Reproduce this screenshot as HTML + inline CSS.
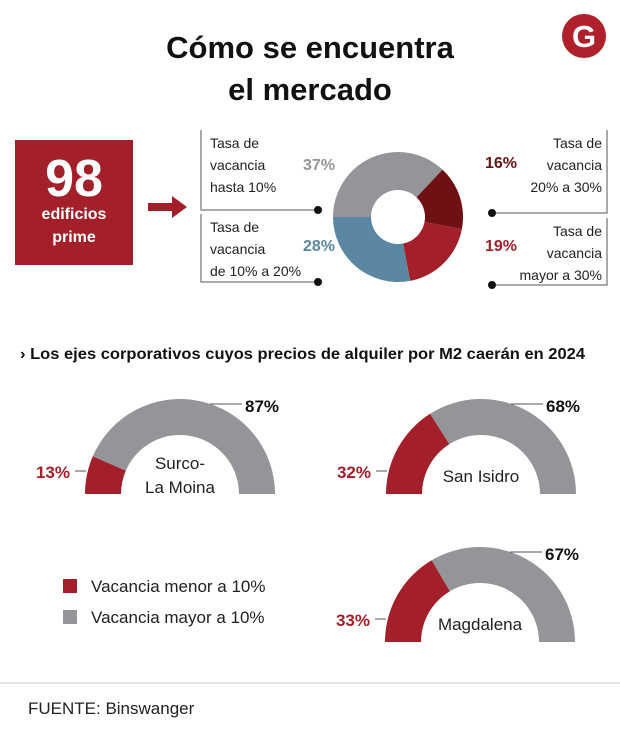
<!DOCTYPE html>
<html><head><meta charset="utf-8">
<style>
body{margin:0;background:#fff;font-family:"Liberation Sans",sans-serif;}
#w{position:relative;width:620px;height:740px;overflow:hidden;}
</style></head><body>
<div id="w">
<svg width="620" height="740" id="svg" style="position:absolute;left:0;top:0" font-family="Liberation Sans, sans-serif">
 <text x="310" y="58" text-anchor="middle" font-size="31" font-weight="bold" fill="#111">Cómo se encuentra</text>
 <text x="310" y="100" text-anchor="middle" font-size="31" font-weight="bold" fill="#111">el mercado</text>
 <g>
  <circle cx="584" cy="36" r="22" fill="#b0202c"/>
  <text x="584" y="47" text-anchor="middle" font-size="31" font-weight="bold" fill="#fff">G</text>
 </g>
 <rect x="15" y="140" width="118" height="125" fill="#a31f2a"/>
 <text x="74" y="196" text-anchor="middle" font-size="52" font-weight="bold" fill="#fff">98</text>
 <text x="74" y="219" text-anchor="middle" font-size="16" font-weight="bold" fill="#fff">edificios</text>
 <text x="74" y="242" text-anchor="middle" font-size="16" font-weight="bold" fill="#fff">prime</text>
 <g>
  <rect x="148" y="203" width="26" height="8" fill="#a31f2a"/>
  <polygon points="172,196 187,207 172,218" fill="#a31f2a"/>
 </g>
 <g id="donut"></g>
 <g id="callouts"></g>
 <text x="20" y="359" font-size="16" font-weight="bold" fill="#111" textLength="565" lengthAdjust="spacingAndGlyphs">›  Los ejes corporativos cuyos precios de alquiler por M2 caerán en 2024</text>
 <g id="gauges"></g>
 <g>
  <rect x="63" y="579" width="14" height="14" fill="#a31f2a"/>
  <text x="91" y="592" font-size="17" fill="#222">Vacancia menor a 10%</text>
  <rect x="63" y="610" width="14" height="14" fill="#939598"/>
  <text x="91" y="623" font-size="17" fill="#222">Vacancia mayor a 10%</text>
 </g>
 <line x1="0" y1="683" x2="620" y2="683" stroke="#ccc" stroke-width="1"/>
 <text x="28" y="714" font-size="17" fill="#222">FUENTE: Binswanger</text>
</svg>
</div>
<script>
const donutLabels=["Tasa de vacancia hasta 10%","Tasa de vacancia 20% a 30%","Tasa de vacancia mayor a 30%","Tasa de vacancia de 10% a 20%"];
const donutValues=[37,16,19,28];
const donutColors=["#939598","#6e1014","#a31f2a","#5b87a3"];
const gaugeNames=["Surco-La Moina","San Isidro","Magdalena"];
const gaugeLow=[13,32,33];
const gaugeHigh=[87,68,67];
const NS="http://www.w3.org/2000/svg";
function mk(t,a,p){const e=document.createElementNS(NS,t);for(const k in a)e.setAttribute(k,a[k]);p.appendChild(e);return e;}
function pt(cx,cy,r,deg){const a=deg*Math.PI/180;return [cx+r*Math.sin(a),cy-r*Math.cos(a)];}
function arc(cx,cy,r0,r1,a0,a1){const p1=pt(cx,cy,r1,a0),p2=pt(cx,cy,r1,a1),p3=pt(cx,cy,r0,a1),p4=pt(cx,cy,r0,a0);const l=(a1-a0)>180?1:0;
return `M${p1[0]},${p1[1]}A${r1},${r1} 0 ${l} 1 ${p2[0]},${p2[1]}L${p3[0]},${p3[1]}A${r0},${r0} 0 ${l} 0 ${p4[0]},${p4[1]}Z`;}
const dg=document.getElementById('donut');
const total=donutValues.reduce((a,b)=>a+b,0);
let ang=270;
donutValues.forEach((v,i)=>{const sw=v/total*360;const p=mk('path',{d:arc(398,217,27,65,ang,ang+sw),fill:donutColors[i]},dg);


ang+=sw;});
const cg=document.getElementById('callouts');
const co=[{x:201,lineY:210,dotX:318,side:'l',ty:148,px:335,py:170},{x:607,lineY:213,dotX:492,side:'r',ty:148,px:485,py:168},{x:607,lineY:285,dotX:492,side:'r',ty:236,px:485,py:251},{x:201,lineY:282,dotX:318,side:'l',ty:232,px:335,py:251}];
donutValues.forEach((v,i)=>{const c=co[i];const top=c.ty-18;
const pl=mk('polyline',{points:`${c.x},${top} ${c.x},${c.lineY} ${c.dotX},${c.lineY}`,fill:'none',stroke:'#555','stroke-width':1},cg);


const d=mk('circle',{cx:c.dotX,cy:c.lineY,r:4,fill:'#111'},cg);


const words=donutLabels[i].split(' ');const lines=[words.slice(0,2).join(' '),words[2],words.slice(3).join(' ')];
const tx=c.side=='l'?c.x+9:c.x-5;
lines.forEach((ln,j)=>{const t=mk('text',{x:tx,y:c.ty+j*22,'font-size':14,fill:'#222','text-anchor':c.side=='l'?'start':'end'},cg);t.textContent=ln;

});
const t=mk('text',{x:c.px,y:c.py,'font-size':16,'font-weight':'bold',fill:donutColors[i],'text-anchor':c.side=='l'?'end':'start'},cg);t.textContent=v+'%';

});
const gg=document.getElementById('gauges');
const gp=[{cx:180,cy:494},{cx:481,cy:494},{cx:480,cy:642}];
gaugeNames.forEach((n,i)=>{const g=gp[i];const lo=gaugeLow[i]/(gaugeLow[i]+gaugeHigh[i])*180;
const a=mk('path',{d:arc(g.cx,g.cy,59,95,270,270+lo),fill:'#a31f2a'},gg);


const b=mk('path',{d:arc(g.cx,g.cy,59,95,270+lo,450),fill:'#939598'},gg);


const l1=mk('line',{x1:g.cx-105,y1:g.cy-23,x2:g.cx-94,y2:g.cy-23,stroke:'#555'},gg);


const l2=mk('line',{x1:g.cx+30,y1:g.cy-90,x2:g.cx+62,y2:g.cy-90,stroke:'#555'},gg);


const t1=mk('text',{x:g.cx-110,y:g.cy-16,'font-size':17,'font-weight':'bold',fill:'#a31f2a','text-anchor':'end'},gg);t1.textContent=gaugeLow[i]+'%';


const t2=mk('text',{x:g.cx+65,y:g.cy-82,'font-size':17,'font-weight':'bold',fill:'#111'},gg);t2.textContent=gaugeHigh[i]+'%';


const parts=n.indexOf('-')>=0?[n.split('-')[0]+'-',n.split('-')[1]]:[n];
parts.forEach((p,j)=>{const t=mk('text',{x:g.cx,y:parts.length>1?g.cy-25+j*24:g.cy-12,'font-size':17,fill:'#222','text-anchor':'middle'},gg);t.textContent=p;

});
});
</script>
</body></html>
